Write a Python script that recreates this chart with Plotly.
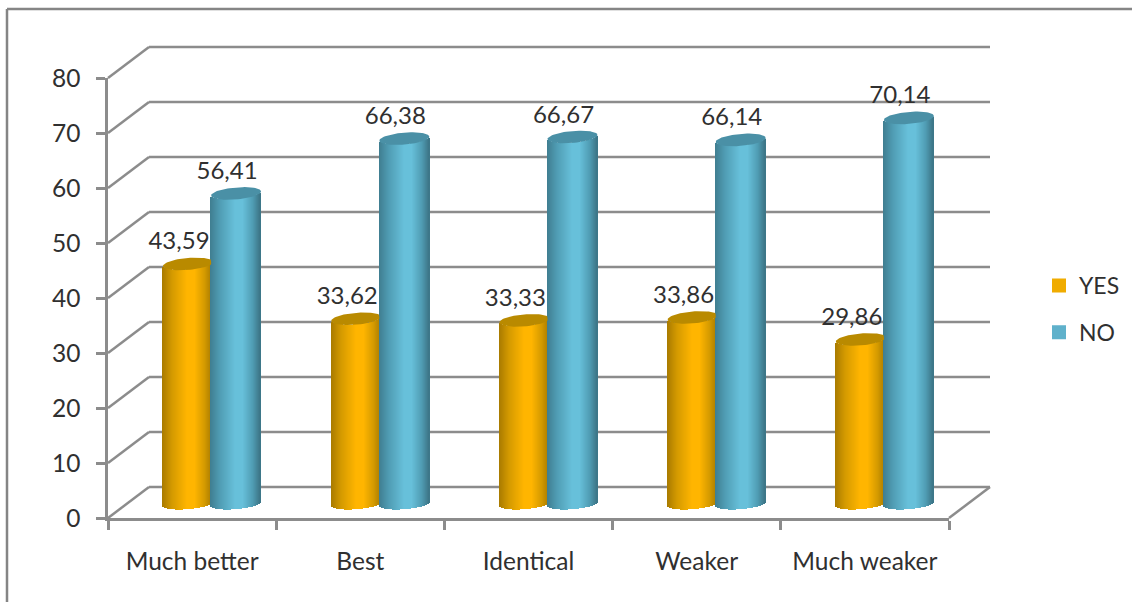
import numpy as np
import plotly.graph_objects as go

# Survey answers per comparison class
categories = ["Much better", "Best", "Identical", "Weaker", "Much weaker"]
yes_values = [43.59, 33.62, 33.33, 33.86, 29.86]
no_values = [56.41, 66.38, 66.67, 66.14, 70.14]
y_ticks = [0, 10, 20, 30, 40, 50, 60, 70, 80]

# Plot frame in pixels
LEFT, RIGHT, TOP, BOTTOM = 108, 949, 78, 518
WIDTH, HEIGHT = 1132, 602
PX_X = (RIGHT - LEFT) / len(categories)
PX_Y = (BOTTOM - TOP) / 80

# Oblique depth of the back wall, in axis units
DEPTH_X = 41 / PX_X
DEPTH_Y = 31 / PX_Y

GRID = "#8c8c8c"
TEXT = "#303030"
FONT = "Lato"

YES_SHADES = ["#a87a00", "#d49a00", "#ffb500", "#ffb500", "#d49a00", "#a87a00"]
NO_SHADES = ["#3f7d90", "#509db4", "#67c0da", "#67c0da", "#509db4", "#3c7486"]
YES_CAP = "#b98a00"
NO_CAP = "#4a90a6"

CYL_W = 50 / PX_X
YES_OFFSET = 0.327
NO_OFFSET = 0.613
FLOOR = 2.6
RADIUS_Y = 5.5 / PX_Y
TILT = 2 / PX_Y
STRIPS = 50
SHADE_STOPS = [0, 0.2, 0.5, 0.65, 0.85, 1]


def hex_rgb(c):
    return np.array([int(c[i:i + 2], 16) for i in (1, 3, 5)], dtype=float)


def shade(stops, t):
    rgb = [np.interp(t, SHADE_STOPS, [hex_rgb(c)[k] for c in stops]) for k in range(3)]
    return "rgb({:.0f},{:.0f},{:.0f})".format(*rgb)


def cylinder_bodies(values, offset, shades):
    """Every cylinder is a run of narrow bars whose height is the value."""
    xs, ys, bases, colors = [], [], [], []
    for i, v in enumerate(values):
        for s in range(STRIPS):
            t = (s + 0.5) / STRIPS
            u = 2 * t - 1
            xs.append(i + offset + t * CYL_W)
            ys.append(v)
            bases.append(FLOOR - RADIUS_Y * np.sqrt(1 - u * u) + TILT * u)
            colors.append(shade(shades, t))
    return go.Bar(
        x=xs, y=ys, base=bases, width=CYL_W / STRIPS * 1.25,
        marker=dict(color=colors, line=dict(width=0)),
        cliponaxis=False, showlegend=False, hoverinfo="skip",
    )


def cylinder_caps(values, offset, color, x_limit=None):
    traces = []
    angle = np.linspace(0, 2 * np.pi, 73)
    for i, v in enumerate(values):
        u = np.cos(angle)
        x = i + offset + (u + 1) / 2 * CYL_W
        if x_limit is not None:
            x = np.minimum(x, i + x_limit)
        y = v + FLOOR + (RADIUS_Y + 0.5 / PX_Y) * np.sin(angle) + TILT * u
        traces.append(go.Scatter(
            x=x, y=y, mode="lines", fill="toself", fillcolor=color,
            line=dict(width=0), cliponaxis=False,
            showlegend=False, hoverinfo="skip",
        ))
    return traces


def value_labels(values, offset):
    return go.Scatter(
        x=[i + offset + CYL_W / 2 - 9 / PX_X for i in range(len(values))],
        y=[v + FLOOR + 20.5 / PX_Y for v in values],
        text=[f"{v:.2f}".replace(".", ",") for v in values],
        mode="text", textposition="middle center",
        textfont=dict(family=FONT, size=24, color=TEXT),
        cliponaxis=False, showlegend=False, hoverinfo="skip",
    )


# Paper fractions, since shapes tied to the axes would be cut at the plot edge
def paper_x(v):
    return v / len(categories)


def paper_y(v):
    return v / 80


def seg(x0, y0, x1, y1):
    return dict(type="line", xref="paper", yref="paper",
                x0=paper_x(x0), y0=paper_y(y0), x1=paper_x(x1), y1=paper_y(y1),
                layer="below", line=dict(color=GRID, width=2.5))


n = len(categories)
shapes = []
for t in y_ticks:
    shapes.append(seg(0, t, DEPTH_X, t + DEPTH_Y))
    shapes.append(seg(DEPTH_X, t + DEPTH_Y, n + DEPTH_X, t + DEPTH_Y))
shapes.append(seg(n, 0, n + DEPTH_X, DEPTH_Y))

# Outer chart border: only its left and top edges fall inside the page
px = lambda p: (p - LEFT) / (RIGHT - LEFT)
py = lambda p: (BOTTOM - p) / (BOTTOM - TOP)
for x0, y0, x1, y1 in [(7, 9, 7, HEIGHT + 5), (7, 9, WIDTH + 5, 9)]:
    shapes.append(dict(type="line", xref="paper", yref="paper",
                       x0=px(x0), y0=py(y0), x1=px(x1), y1=py(y1),
                       layer="below", line=dict(color="#858585", width=2.5)))

fig = go.Figure()
fig.add_trace(cylinder_bodies(yes_values, YES_OFFSET, YES_SHADES))
fig.add_trace(cylinder_bodies(no_values, NO_OFFSET, NO_SHADES))
fig.add_traces(cylinder_caps(yes_values, YES_OFFSET, YES_CAP, x_limit=NO_OFFSET))
fig.add_traces(cylinder_caps(no_values, NO_OFFSET, NO_CAP))
fig.add_trace(value_labels(yes_values, YES_OFFSET))
fig.add_trace(value_labels(no_values, NO_OFFSET))

# Flat swatches for the legend
for name, color in [("YES", "#f0ac00"), ("NO", "#5fb1cb")]:
    fig.add_trace(go.Bar(x=[None], y=[None], name=name, legendgroup=name,
                         marker=dict(color=color, line=dict(width=2, color=color))))

fig.update_layout(
    width=WIDTH, height=HEIGHT,
    margin=dict(l=LEFT, r=WIDTH - RIGHT, t=TOP, b=HEIGHT - BOTTOM, pad=0, autoexpand=False),
    paper_bgcolor="white", plot_bgcolor="rgba(0,0,0,0)",
    barmode="overlay", bargap=0,
    shapes=shapes,
    font=dict(family=FONT, color=TEXT),
    legend=dict(
        x=px(1039), xanchor="left", y=py(264), yanchor="top",
        tracegroupgap=14, font=dict(family=FONT, size=23, color=TEXT),
        bgcolor="rgba(0,0,0,0)",
    ),
    xaxis=dict(
        range=[0, n], tickmode="array",
        tickvals=[i + 0.5 for i in range(n)], ticktext=categories,
        ticks="", ticklen=0, ticklabelstandoff=20,
        tickfont=dict(family=FONT, size=24.5, color=TEXT),
        minor=dict(tickmode="array", tickvals=list(range(n + 1)), ticks="outside",
                   ticklen=9, tickwidth=2.5, tickcolor=GRID, showgrid=False),
        showline=True, linecolor=GRID, linewidth=2.5,
        showgrid=False, zeroline=False,
    ),
    yaxis=dict(
        range=[0, 80], tickmode="array", tickvals=y_ticks,
        ticks="outside", ticklen=9, tickwidth=2.5, tickcolor=GRID,
        ticklabelstandoff=11,
        tickfont=dict(family=FONT, size=24.5, color=TEXT),
        showline=True, linecolor=GRID, linewidth=2.5,
        showgrid=False, zeroline=False,
    ),
)

fig.write_html("out.html")
